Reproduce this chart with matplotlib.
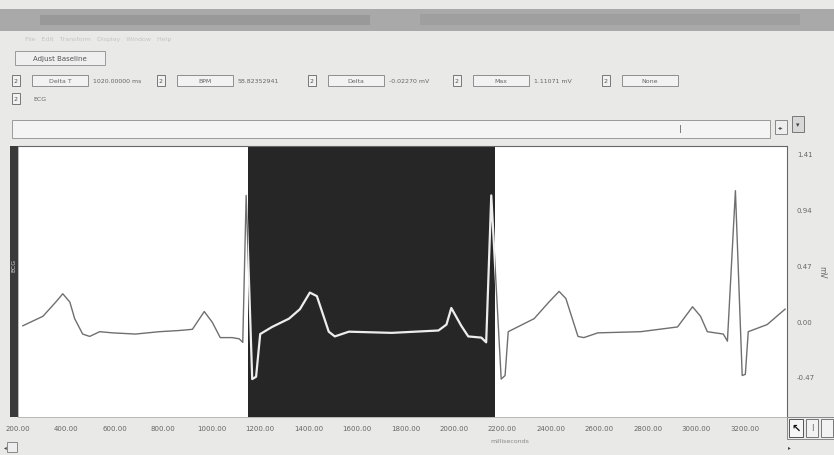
import matplotlib.pyplot as plt
from matplotlib.patches import Rectangle

# ECG trace (time in ms, amplitude in mV)
t_ms = [220, 303, 356, 385, 414, 434, 467, 496, 537, 591, 685, 784, 866, 920, 969,
        1002, 1035, 1084, 1113, 1128, 1142, 1167, 1183, 1200, 1249, 1319, 1364, 1405,
        1434, 1483, 1508, 1566, 1743, 1936, 1969, 1989, 2030, 2059, 2113, 2133, 2154,
        2195, 2211, 2224, 2331, 2392, 2434, 2462, 2512, 2536, 2594, 2771, 2923, 2985,
        3018, 3046, 3112, 3129, 3162, 3190, 3203, 3215, 3293, 3367]
ecg_mv = [-0.04, 0.04, 0.16, 0.23, 0.16, 0.02, -0.11, -0.13, -0.09, -0.10, -0.11,
          -0.09, -0.08, -0.07, 0.08, -0.01, -0.14, -0.14, -0.15, -0.18, 1.06, -0.49,
          -0.47, -0.11, -0.05, 0.02, 0.10, 0.24, 0.21, -0.09, -0.13, -0.09, -0.10,
          -0.08, -0.03, 0.11, -0.04, -0.13, -0.14, -0.18, 1.06, -0.49, -0.46, -0.09,
          0.02, 0.16, 0.25, 0.19, -0.13, -0.14, -0.10, -0.09, -0.05, 0.12, 0.04,
          -0.09, -0.11, -0.17, 1.10, -0.46, -0.45, -0.09, -0.03, 0.10]

sel_start, sel_end = 1150, 2170
x_ticks = [200, 400, 600, 800, 1000, 1200, 1400, 1600, 1800, 2000, 2200, 2400,
           2600, 2800, 3000, 3200]
y_ticks = [1.41, 0.94, 0.47, 0.00, -0.47]

toolbar = [("Delta T", "1020.00000 ms"), ("BPM", "58.82352941"),
           ("Delta", "-0.02270 mV"), ("Max", "1.11071 mV"), ("None", "")]

W, H = 834, 456
fig = plt.figure(figsize=(W / 100, H / 100), dpi=100)
fig.patch.set_facecolor('#e9e9e7')

# overlay axes in pixel coordinates for the window chrome
ui = fig.add_axes([0, 0, 1, 1], zorder=0)
ui.set_xlim(0, W)
ui.set_ylim(H, 0)
ui.axis('off')

def box(x, y, w, h, fc='none', ec='#8a8a8a', lw=0.7, z=1):
    ui.add_patch(Rectangle((x, y), w, h, facecolor=fc, edgecolor=ec, lw=lw, zorder=z))

# blurred title bar
box(0, 10, W, 22, fc='#a9a9a9', ec='none')
box(40, 16, 330, 10, fc='#999999', ec='none')
box(420, 15, 380, 11, fc='#9f9f9f', ec='none')
ui.text(25, 40, "File   Edit   Transform   Display   Window   Help", fontsize=4.5,
        color='#c4c4c4', va='center')

# Adjust Baseline button
box(15, 52, 90, 14, fc='#efefef', ec='#9a9a9a')
ui.text(60, 59, "Adjust Baseline", fontsize=5, color='#555555', ha='center', va='center')

# measurement row
xs = [12, 157, 308, 453, 602]
for (name, val), x0 in zip(toolbar, xs):
    box(x0, 76, 8, 11, fc='#f2f2f2', ec='#777777')
    ui.text(x0 + 4, 81.5, "2", fontsize=4.5, color='#555555', ha='center', va='center')
    box(x0 + 20, 76, 56, 11, fc='#f2f2f2', ec='#8f8f8f')
    ui.text(x0 + 48, 81.5, name, fontsize=4.5, color='#666666', ha='center', va='center')
    if val:
        ui.text(x0 + 81, 81.5, val, fontsize=4.5, color='#666666', va='center')

box(12, 94, 8, 11, fc='#f2f2f2', ec='#777777')
ui.text(16, 99.5, "2", fontsize=4.5, color='#555555', ha='center', va='center')
ui.text(33, 99.5, "ECG", fontsize=4.5, color='#666666', va='center')

# journal / text strip
box(12, 121, 758, 18, fc='#f4f4f4', ec='#9a9a9a')
ui.text(680, 130, "I", fontsize=7, color='#777777', ha='center', va='center')
box(775, 121, 12, 14, fc='#eeeeee', ec='#888888')
ui.text(781, 128, "\u25c2\u25b8", fontsize=4, color='#555555', ha='center', va='center')
box(792, 117, 12, 16, fc='#d8d8d8', ec='#777777')
ui.text(798, 125, "\u25be", fontsize=5, color='#444444', ha='center', va='center')

# left channel strip
box(10, 147, 8, 271, fc='#3a3a3a', ec='none')
ui.text(14, 265, "ECG", fontsize=4.5, color='#dddddd', rotation=90,
        ha='center', va='center', zorder=3)

# right unit label
ui.text(822, 272, "mV", fontsize=5.5, color='#666666', rotation=-90,
        ha='center', va='center')

# bottom widgets
box(787, 418, 47, 22, fc='#ebebeb', ec='#888888')
box(789, 420, 14, 18, fc='#f6f6f6', ec='#555555')
ui.text(796, 429, "\u2196", fontsize=8, color='#111111', ha='center', va='center',
        fontweight='bold')
box(806, 420, 12, 18, fc='#f2f2f2', ec='#777777')
ui.text(812, 429, "I", fontsize=6, color='#666666', ha='center', va='center')
box(821, 420, 12, 18, fc='#f2f2f2', ec='#777777')
box(7, 443, 10, 10, fc='#eeeeee', ec='#888888')
ui.text(5, 448, "\u25c2", fontsize=4, color='#444444', ha='center', va='center')
ui.text(789, 448, "\u25b8", fontsize=4, color='#444444', ha='center', va='center')

# main plot area
ax = fig.add_axes([18 / W, 1 - 418 / H, (787 - 18) / W, (418 - 147) / H], zorder=1)
ax.set_facecolor('white')
ax.set_xlim(212, 3375)
ax.set_ylim(-0.81, 1.477)

ax.plot(t_ms, ecg_mv, color='#6f6f6f', lw=1.0, zorder=1)
sel = ax.axvspan(sel_start, sel_end, color='#262626', lw=0, zorder=2)
bright = ax.plot(t_ms, ecg_mv, color='#ededed', lw=1.6, zorder=3)[0]
bright.set_clip_path(sel)

ax.set_xticks(x_ticks)
ax.set_xticklabels(["%.2f" % v for v in x_ticks])
ax.set_yticks(y_ticks)
ax.set_yticklabels(["%.2f" % v for v in y_ticks])
ax.yaxis.tick_right()
ax.tick_params(axis='both', length=0, labelsize=5, labelcolor='#666666')
ax.tick_params(axis='y', pad=7)
ax.tick_params(axis='x', pad=6)
ax.text(0.64, -0.085, "milliseconds", transform=ax.transAxes, fontsize=4.5,
        color='#888888', ha='center', va='center')
for side in ['left', 'bottom']:
    ax.spines[side].set_color('#b0b0b0')
    ax.spines[side].set_linewidth(0.6)
for side in ['top', 'right']:
    ax.spines[side].set_color('#666666')
    ax.spines[side].set_linewidth(0.8)
    ax.spines[side].set_linestyle((0, (2, 1)))

fig.savefig('out.png', dpi=100, facecolor=fig.get_facecolor())
